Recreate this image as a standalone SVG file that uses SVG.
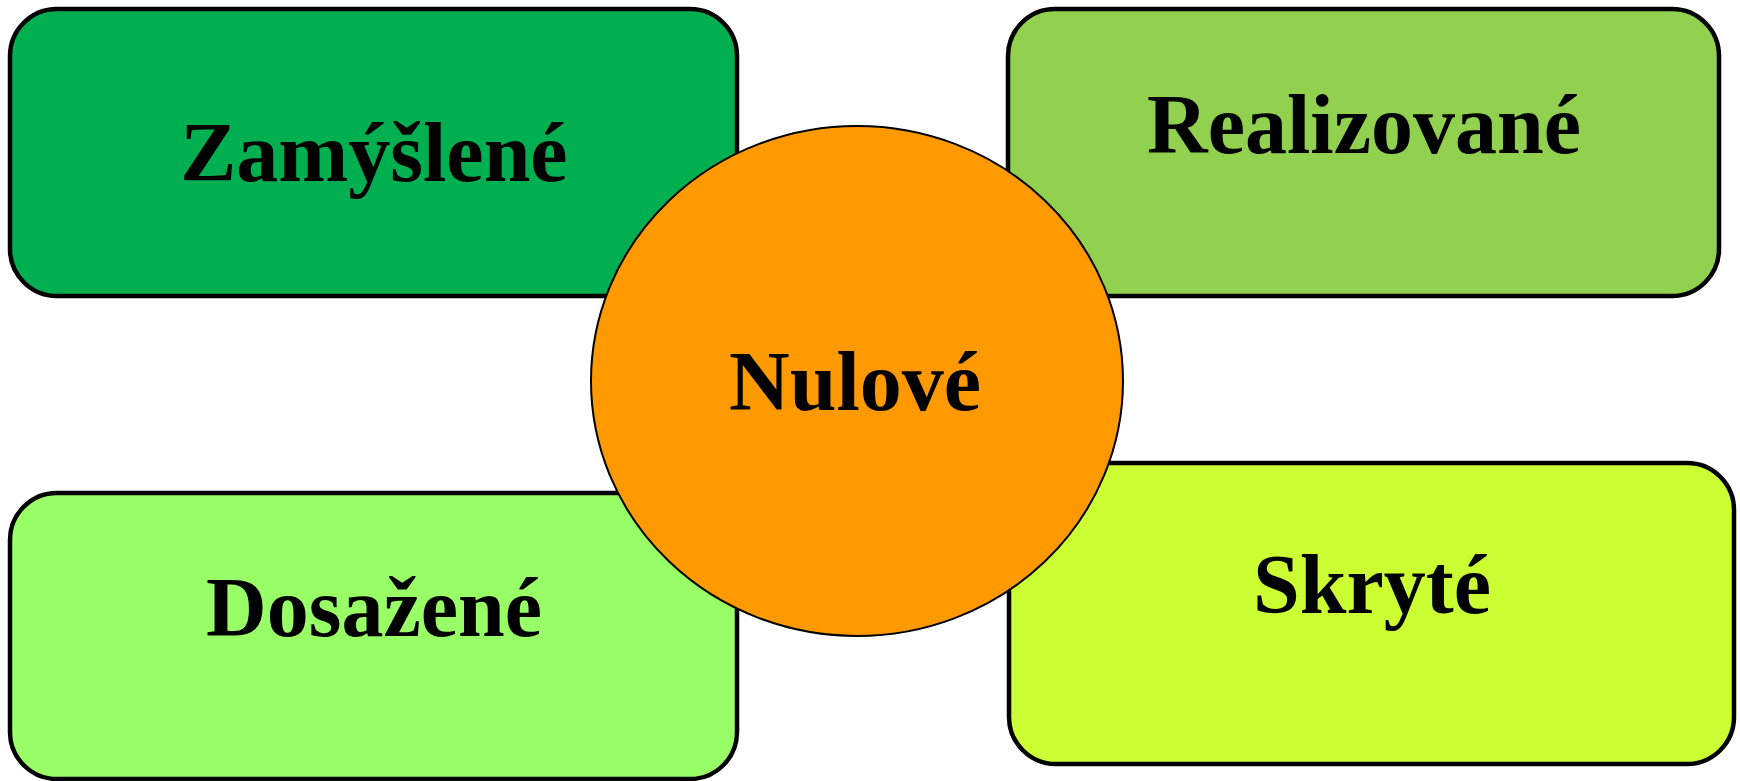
<svg xmlns="http://www.w3.org/2000/svg" width="1740" height="781" viewBox="0 0 1740 781">
<style>
.box{stroke:#000;stroke-width:4.5}
.lbl{font-family:"Liberation Serif","Times New Roman",serif;font-weight:bold;font-size:84px;fill:#000;text-anchor:middle}
</style>
<rect width="1740" height="781" fill="#fff"/>
<g id="zamyslene">
<rect class="box" x="10" y="9" width="727" height="287" rx="47" fill="#00B050"/>
<text class="lbl" x="374" y="181">Zamýšlené</text>
</g>
<g id="realizovane">
<rect class="box" x="1008" y="9" width="711" height="287" rx="47" fill="#92D050"/>
<text class="lbl" x="1364" y="153">Realizované</text>
</g>
<g id="dosazene">
<rect class="box" x="10" y="493" width="727" height="286" rx="47" fill="#99FF66"/>
<text class="lbl" x="374" y="636">Dosažené</text>
</g>
<g id="skryte">
<rect class="box" x="1009" y="463" width="725" height="301" rx="47" fill="#CCFF33"/>
<text class="lbl" x="1372" y="613">Skryté</text>
</g>
<g id="nulove">
<ellipse cx="857" cy="381" rx="266" ry="255" fill="#FF9900" stroke="#000" stroke-width="2"/>
<text class="lbl" x="855" y="410">Nulové</text>
</g>
</svg>
